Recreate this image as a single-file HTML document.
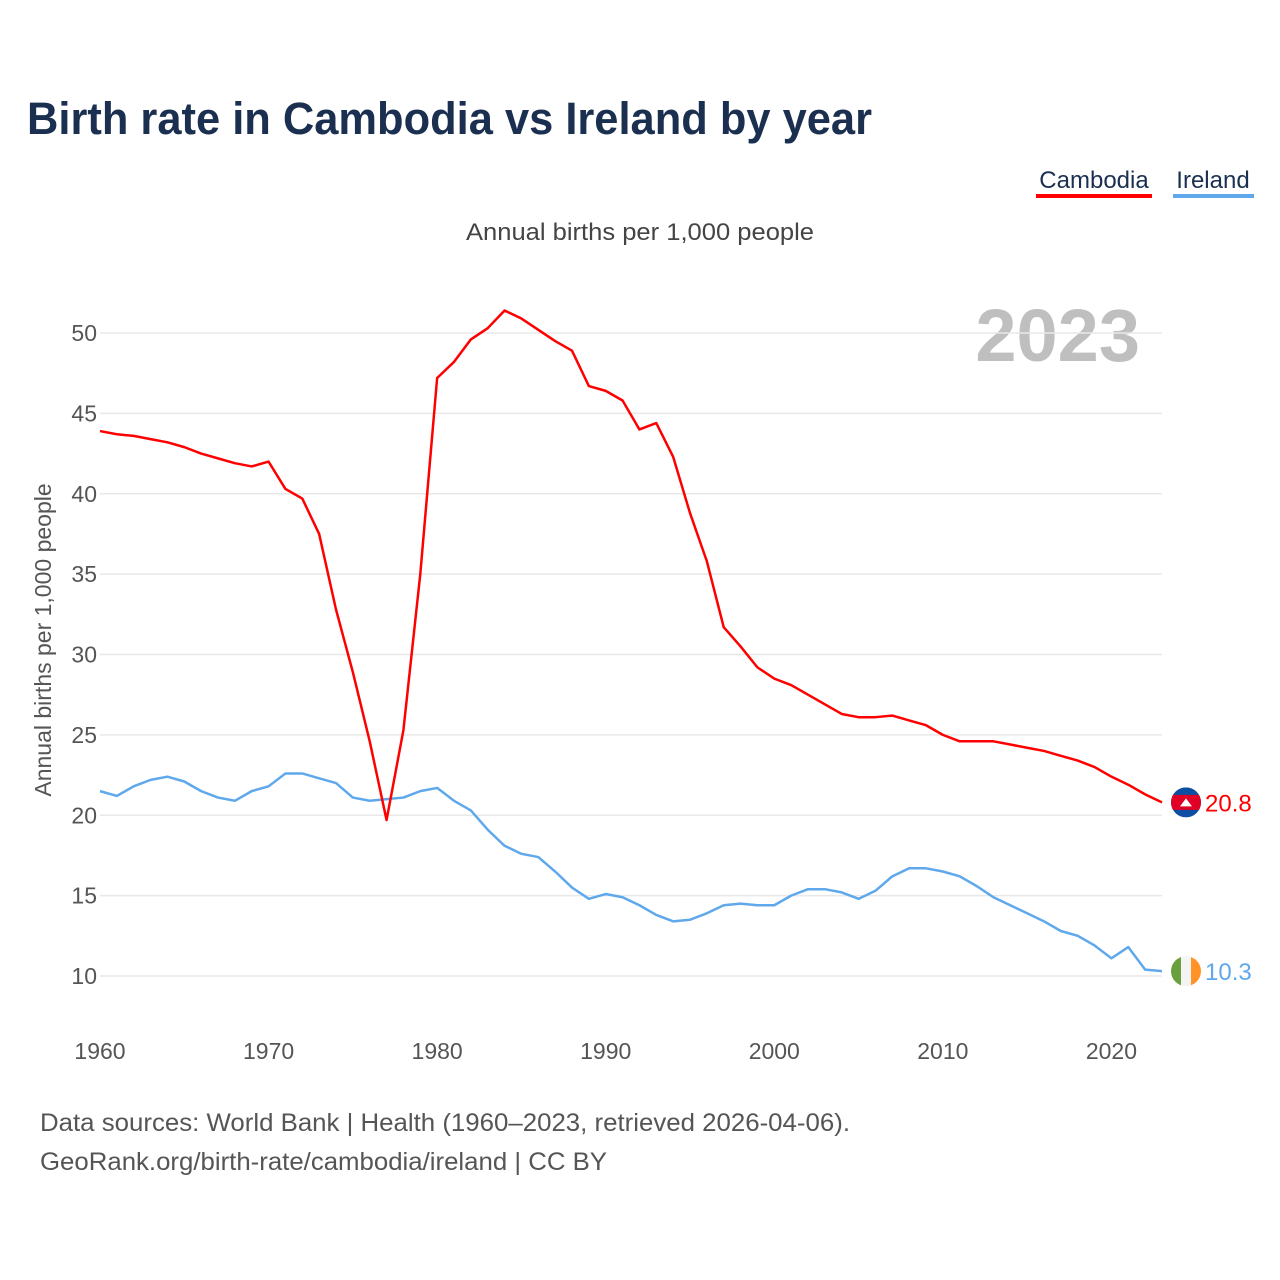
<!DOCTYPE html>
<html><head><meta charset="utf-8"><style>
body{margin:0;background:#fff;font-family:"Liberation Sans",sans-serif;}
#wrap{position:relative;width:1280px;height:1280px;overflow:hidden;}
</style></head><body>
<div id="wrap">
<svg id="svg" width="1280" height="1280" xmlns="http://www.w3.org/2000/svg">
<defs><clipPath id="cc"><circle cx="1186" cy="0" r="15" id="ccirc"/></clipPath><clipPath id="ic"><circle cx="1186" cy="0" r="15" id="icirc"/></clipPath></defs>
<text x="27" y="134" font-size="45" font-weight="bold" fill="#1b3050" textLength="845" lengthAdjust="spacingAndGlyphs">Birth rate in Cambodia vs Ireland by year</text>
<g>
<text x="1094" y="188" font-size="24" fill="#1b3050" text-anchor="middle">Cambodia</text>
<rect x="1036" y="194" width="116" height="4" fill="#ff0000"/>
<text x="1213" y="188" font-size="24" fill="#1b3050" text-anchor="middle">Ireland</text>
<rect x="1173" y="194" width="81" height="4" fill="#5fa8ec"/>
</g>
<text x="466" y="240" font-size="24" fill="#444" textLength="348" lengthAdjust="spacingAndGlyphs">Annual births per 1,000 people</text>
<text x="1140" y="361" font-size="74" font-weight="bold" fill="#bfbfbf" text-anchor="end">2023</text>
<text transform="translate(51,640) rotate(-90)" font-size="23" fill="#555" text-anchor="middle">Annual births per 1,000 people</text>
<g id="grid"></g><g id="lines"></g><g id="labels"></g>
<text x="40" y="1131" font-size="25" fill="#555" textLength="810" lengthAdjust="spacingAndGlyphs">Data sources: World Bank | Health (1960–2023, retrieved 2026-04-06).</text>
<text x="40" y="1170" font-size="25" fill="#555" textLength="567" lengthAdjust="spacingAndGlyphs">GeoRank.org/birth-rate/cambodia/ireland | CC BY</text>
</svg></div>
<script>
const years=[];for(let y=1960;y<=2023;y++)years.push(y);
const cambodia=[43.9,43.7,43.6,43.4,43.2,42.9,42.5,42.2,41.9,41.7,42.0,40.3,39.7,37.5,32.8,28.9,24.6,19.7,25.3,35.0,47.2,48.2,49.6,50.3,51.4,50.9,50.2,49.5,48.9,46.7,46.4,45.8,44.0,44.4,42.3,38.8,35.8,31.7,30.5,29.2,28.5,28.1,27.5,26.9,26.3,26.1,26.1,26.2,25.9,25.6,25.0,24.6,24.6,24.6,24.4,24.2,24.0,23.7,23.4,23.0,22.4,21.9,21.3,20.8];
const ireland=[21.5,21.2,21.8,22.2,22.4,22.1,21.5,21.1,20.9,21.5,21.8,22.6,22.6,22.3,22.0,21.1,20.9,21.0,21.1,21.5,21.7,20.9,20.3,19.1,18.1,17.6,17.4,16.5,15.5,14.8,15.1,14.9,14.4,13.8,13.4,13.5,13.9,14.4,14.5,14.4,14.4,15.0,15.4,15.4,15.2,14.8,15.3,16.2,16.7,16.7,16.5,16.2,15.6,14.9,14.4,13.9,13.4,12.8,12.5,11.9,11.1,11.8,10.4,10.3];
const yTicks=[10,15,20,25,30,35,40,45,50];
const xTicks=[1960,1970,1980,1990,2000,2010,2020];
const NS="http://www.w3.org/2000/svg";
const X=v=>100+(v-1960)*(1062/63);
const Y=v=>976-(v-10)*(643/40);
function mk(t,a,p){const e=document.createElementNS(NS,t);for(const k in a)e.setAttribute(k,a[k]);p.appendChild(e);return e;}
const grid=document.getElementById('grid'),lines=document.getElementById('lines'),labels=document.getElementById('labels');
yTicks.forEach(v=>{
 const l=mk('line',{x1:100,x2:1162,y1:Y(v),y2:Y(v),stroke:'#e8e8e8','stroke-width':1.5},grid);
 
 
 const t=mk('text',{x:97,y:Y(v)+8,'font-size':23,fill:'#555','text-anchor':'end'},grid);
 t.textContent=v;
 
 
});
xTicks.forEach(v=>{
 const t=mk('text',{x:X(v),y:1059,'font-size':23,fill:'#555','text-anchor':'middle'},grid);
 t.textContent=v;
 
 
});
function line(d,c,name){
 const p=mk('polyline',{points:d.map((v,i)=>X(years[i])+','+Y(v)).join(' '),fill:'none',stroke:c,'stroke-width':2.5,'stroke-linejoin':'round'},lines);
 
 
}
line(ireland,'#5fa8ec','ireland-line');
line(cambodia,'#ff0000','cambodia-line');
const cy=Y(cambodia[cambodia.length-1]),iy=Y(ireland[ireland.length-1]);
document.getElementById('ccirc').setAttribute('cy',cy);
document.getElementById('icirc').setAttribute('cy',iy);
const cg=mk('g',{'clip-path':'url(#cc)'},labels);


mk('rect',{x:1171,y:cy-15,width:30,height:30,fill:'#0b4ea2'},cg);
mk('rect',{x:1171,y:cy-7.5,width:30,height:15,fill:'#e00025'},cg);
mk('polygon',{points:(1180)+','+(cy+4)+' '+(1192)+','+(cy+4)+' '+1186+','+(cy-4),fill:'#fff'},cg);
const ct=mk('text',{x:1205,y:cy+9,'font-size':24,fill:'#ff0000'},labels);
ct.textContent=cambodia[cambodia.length-1].toFixed(1);


const ig=mk('g',{'clip-path':'url(#ic)'},labels);


mk('rect',{x:1171,y:iy-15,width:10,height:30,fill:'#6a9f3e'},ig);
mk('rect',{x:1181,y:iy-15,width:10,height:30,fill:'#f4f4f4'},ig);
mk('rect',{x:1191,y:iy-15,width:10,height:30,fill:'#ff9327'},ig);
const it=mk('text',{x:1205,y:iy+9,'font-size':24,fill:'#5fa8ec'},labels);
it.textContent=ireland[ireland.length-1].toFixed(1);


</script>
</body></html>
